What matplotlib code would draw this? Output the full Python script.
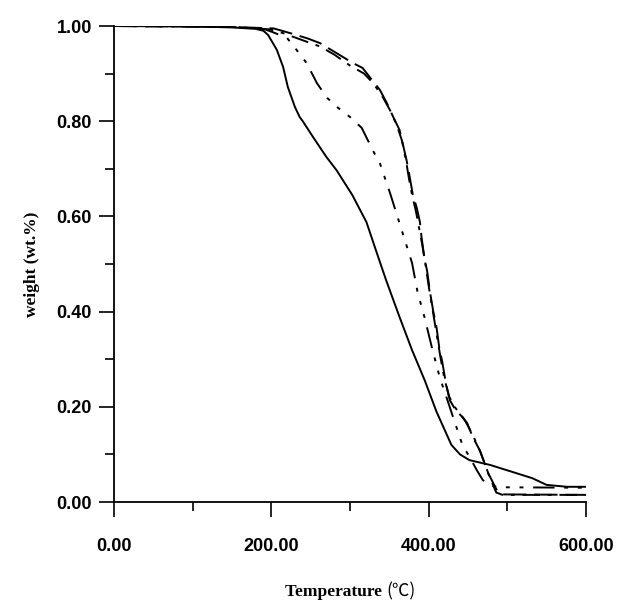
import matplotlib
matplotlib.use("Agg")
import matplotlib.pyplot as plt
from matplotlib.ticker import MultipleLocator, FormatStrFormatter

# TGA curves (temperature in C, weight fraction)
temp_solid = [0, 100, 150, 180, 190, 196, 207, 215, 221, 230, 236, 240, 253, 270, 283, 303, 321,
              333, 346, 363, 379, 395, 410, 429, 440, 452, 478, 507, 532, 550, 576, 600]
w_solid = [1.0, 0.999, 0.997, 0.994, 0.99, 0.981, 0.95, 0.914, 0.872, 0.83, 0.809, 0.8, 0.767,
           0.725, 0.697, 0.645, 0.588, 0.529, 0.466, 0.389, 0.319, 0.256, 0.19, 0.12, 0.10,
           0.088, 0.078, 0.063, 0.05, 0.036, 0.032, 0.032]

temp_b = [0, 100, 150, 190, 202, 220, 232, 245, 258, 271, 285, 300, 315, 329, 338, 351, 367, 379,
          386, 395, 404, 414, 424, 431, 443, 452, 462, 469, 478, 490, 600]
w_b = [1.0, 0.999, 0.998, 0.994, 0.987, 0.975, 0.95, 0.922, 0.88, 0.849, 0.828, 0.809, 0.786,
       0.739, 0.712, 0.649, 0.565, 0.502, 0.441, 0.387, 0.326, 0.263, 0.214, 0.179, 0.12, 0.095,
       0.065, 0.046, 0.035, 0.031, 0.03]

temp_c = [0, 100, 150, 203, 224, 246, 262, 283, 304, 316, 325, 338, 347, 355, 363, 367, 372, 376,
          380, 385, 389, 391, 395, 398, 402, 406, 410, 414, 417, 422, 427, 433, 442, 449, 456, 465,
          476, 488, 496, 600]
w_c = [1.0, 0.999, 0.998, 0.995, 0.985, 0.974, 0.964, 0.943, 0.922, 0.912, 0.893, 0.866, 0.838,
       0.809, 0.782, 0.754, 0.718, 0.683, 0.645, 0.618, 0.588, 0.557, 0.508, 0.487, 0.439, 0.40,
       0.368, 0.319, 0.298, 0.25, 0.214, 0.197, 0.18, 0.166, 0.137, 0.109, 0.06, 0.021, 0.016, 0.015]

temp_d = [0, 100, 150, 198, 215, 240, 262, 280, 300, 318, 330, 342, 352, 360, 366, 371, 375, 379,
          384, 388, 392, 396, 400, 405, 410, 415, 420, 426, 433, 445, 455, 466, 477, 486, 494, 600]
w_d = [1.0, 0.999, 0.998, 0.993, 0.985, 0.97, 0.957, 0.94, 0.917, 0.9, 0.879, 0.85, 0.82, 0.79,
       0.76, 0.72, 0.68, 0.645, 0.61, 0.575, 0.54, 0.5, 0.455, 0.405, 0.355, 0.305, 0.26, 0.222,
       0.2, 0.175, 0.145, 0.105, 0.055, 0.02, 0.015, 0.015]

fig = plt.figure(figsize=(6.18, 6.12), dpi=100)
ax = fig.add_axes([0.1845, 0.1797, 0.7635, 0.7778])

lw = 1.4
ax.plot(temp_solid, w_solid, color="black", lw=lw, linestyle="-")
ax.plot(temp_b, w_b, color="black", lw=lw, linestyle=(0, (11, 5, 2, 5, 2, 5, 2, 5)))
ax.plot(temp_c, w_c, color="black", lw=lw, linestyle=(0, (12, 4)))
ax.plot(temp_d, w_d, color="black", lw=lw, linestyle=(3, (9, 4, 2, 4)))

ax.set_xlim(0, 600)
ax.set_ylim(0, 1.0)
ax.spines["top"].set_visible(False)
ax.spines["right"].set_visible(False)
for s in ("left", "bottom"):
    ax.spines[s].set_linewidth(1.3)

ax.xaxis.set_major_locator(MultipleLocator(200))
ax.xaxis.set_minor_locator(MultipleLocator(100))
ax.yaxis.set_major_locator(MultipleLocator(0.2))
ax.yaxis.set_minor_locator(MultipleLocator(0.1))
ax.xaxis.set_major_formatter(FormatStrFormatter("%.2f"))
ax.yaxis.set_major_formatter(FormatStrFormatter("%.2f"))

ax.tick_params(axis="both", which="major", direction="out", length=11, width=1.2)
ax.tick_params(axis="both", which="minor", direction="out", length=6.5, width=1.2)
ax.tick_params(axis="x", which="major", pad=15)
ax.tick_params(axis="y", which="major", pad=5)
for lab in ax.get_xticklabels() + ax.get_yticklabels():
    lab.set_fontfamily("Liberation Sans")
    lab.set_fontweight("bold")
    lab.set_fontsize(13)

ax.set_ylabel("weight (wt.%)", family="Liberation Serif", fontweight="bold", fontsize=12.5,
              labelpad=12)

# x label: bold serif word, lighter CJK-style "(℃)" like the original
t1 = fig.text(0.5, 0.033, "Temperature ", family="Liberation Serif", fontweight="bold",
              fontsize=12.5, ha="left", va="center")
t2 = fig.text(0.5, 0.033, "(\u2103)", family=["Noto Sans CJK SC", "DejaVu Sans"],
              fontweight="light", fontsize=12.5, ha="left", va="center")
r = fig.canvas.get_renderer()
w1 = t1.get_window_extent(r).width / fig.bbox.width
w2 = t2.get_window_extent(r).width / fig.bbox.width
x0 = 0.567 - (w1 + w2) / 2
t1.set_x(x0)
t2.set_x(x0 + w1)

fig.savefig("out.png", dpi=100)
